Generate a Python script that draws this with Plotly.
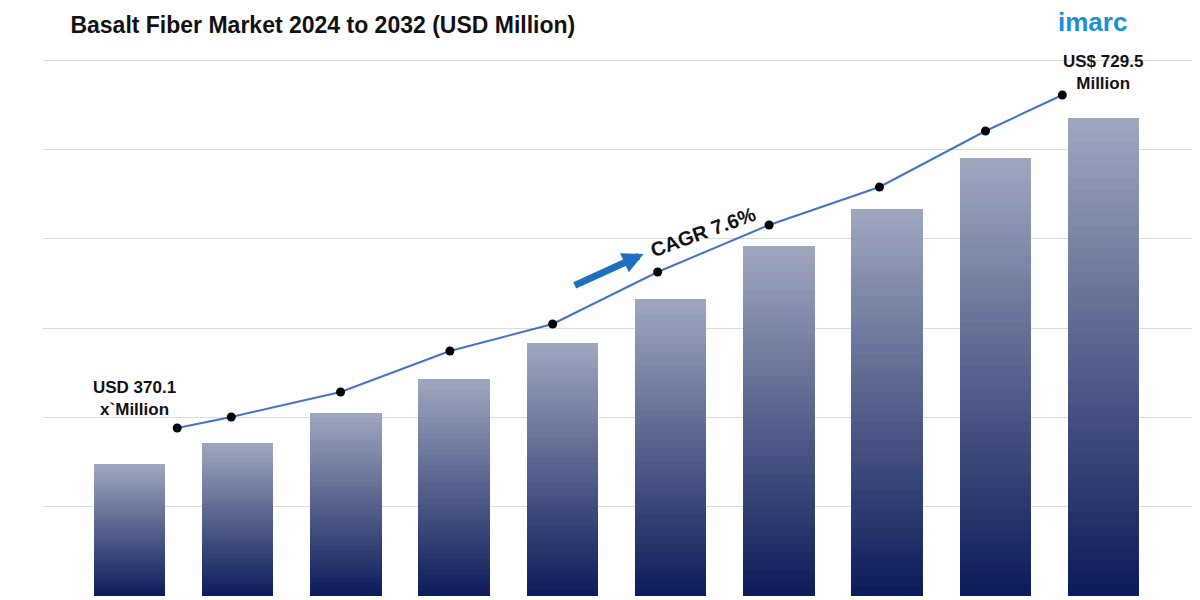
import plotly.graph_objects as go

# values (pixel-height units, baseline = 0)
bar_pos = [0, 1, 2, 3, 4, 5, 6, 7, 8, 9]
bar_vals = [132, 153, 183, 217, 253, 297, 350, 387, 438, 478]
dot_pos = [0.44, 0.94, 1.95, 2.96, 3.91, 4.88, 5.91, 6.93, 7.91, 8.62]
dot_vals = [168, 179, 204, 245, 272, 324, 371, 409, 465, 501]

n_seg = 40
top_rgb = (160, 168, 192)
bot_rgb = (12, 28, 90)

fig = go.Figure()

# gradient bars: each bar stacked from slices, dark at the bottom, light at the top
for k in range(n_seg):
    f = (k + 0.5) / n_seg
    c = tuple(int(bot_rgb[i] + (top_rgb[i] - bot_rgb[i]) * f) for i in range(3))
    fig.add_trace(go.Bar(
        x=bar_pos, y=[v / n_seg for v in bar_vals], width=0.66,
        marker=dict(color="rgb(%d,%d,%d)" % c, line=dict(width=0)),
        showlegend=False, hoverinfo="skip"))

fig.add_trace(go.Scatter(
    x=dot_pos, y=dot_vals, mode="lines+markers",
    line=dict(color="#4472c4", width=2),
    marker=dict(color="black", size=9), showlegend=False))

fig.update_layout(
    barmode="stack", bargap=0,
    width=1200, height=600,
    plot_bgcolor="white", paper_bgcolor="white",
    margin=dict(l=35, r=5, t=33, b=12),
    font=dict(family="Liberation Sans, Arial", color="#111"),
    xaxis=dict(range=[-0.8, 9.92], visible=False),
    yaxis=dict(range=[0, 555], tick0=0, dtick=89.3, showticklabels=False,
               gridcolor="#dcdcdc", zeroline=False),
    title=dict(text="<b>Basalt Fiber Market 2024 to 2032 (USD Million)</b>",
               x=0.052, xanchor="left", y=0.972, yanchor="middle",
               font=dict(size=23, color="#111")),
)

fig.add_annotation(text="<b>USD 370.1<br>x`Million</b>", x=0.05, y=198, showarrow=False,
                   font=dict(size=17), xref="x", yref="y")
fig.add_annotation(text="<b>US$ 729.5<br>Million</b>", x=9.0, y=524, showarrow=False,
                   font=dict(size=17))
fig.add_annotation(text="<b>CAGR 7.6%</b>", x=5.3, y=364, showarrow=False,
                   textangle=-20, font=dict(size=20))
fig.add_annotation(x=4.75, y=342, ax=4.1, ay=310, xref="x", yref="y",
                   axref="x", ayref="y", showarrow=True, arrowhead=2,
                   arrowsize=0.6, arrowwidth=7, arrowcolor="#1f6fc0", text="")
fig.add_annotation(text="<b>imarc</b>", xref="paper", yref="paper", x=0.905, y=1.034,
                   xanchor="center", yanchor="middle", showarrow=False,
                   font=dict(size=26, color="#1a8fd8"))

fig.write_html("out.html")
